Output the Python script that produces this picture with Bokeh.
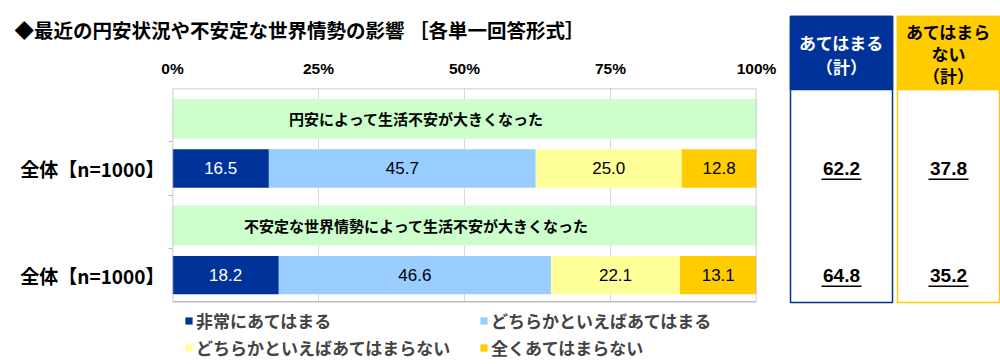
from bokeh.plotting import figure
from bokeh.models import Range1d, FixedTicker, Legend, LegendItem, ColumnDataSource
from bokeh.layouts import row
from bokeh.embed import file_html
from bokeh.resources import INLINE
from bokeh.core.properties import value

# ---------------- data ----------------
title_text = "◆最近の円安状況や不安定な世界情勢の影響 ［各単一回答形式］"
statements = ["円安によって生活不安が大きくなった",
              "不安定な世界情勢によって生活不安が大きくなった"]
group_labels = ["全体【n=1000】", "全体【n=1000】"]
series_names = ["非常にあてはまる", "どちらかといえばあてはまる",
                "どちらかといえばあてはまらない", "全くあてはまらない"]
very = [16.5, 18.2]
somewhat = [45.7, 46.6]
somewhat_not = [25.0, 22.1]
not_at_all = [12.8, 13.1]
agree_total = [62.2, 64.8]
disagree_total = [37.8, 35.2]
x_ticks = [0, 25, 50, 75, 100]
tick_labels = ["0%", "25%", "50%", "75%", "100%"]
agree_header = ["あてはまる", "（計）"]
disagree_header = ["あてはまら", "ない", "（計）"]

colors = ["#003399", "#99CCFF", "#FFFF99", "#FFCC00"]
label_colors = ["white", "black", "black", "black"]
BAND = "#CCFFCC"
GRID = "#D9D9D9"
FRAME = "#BBBBBB"
JP = "Noto Sans CJK JP"
NUM = "Liberation Sans"

# ---------------- layout constants (pixels) ----------------
W, H = 780, 364
FR_L, FR_R, FR_T = 172, 756, 87       # plot frame (bottom reaches the canvas edge)
BAR_B = 301                           # bottom of the bar area
PX_PER_ROW = (BAR_B - FR_T) / 4

p = figure(width=W, height=H, x_range=Range1d(0, 100),
           y_range=Range1d(-(H - BAR_B) / PX_PER_ROW, 4),
           output_backend="svg", toolbar_location=None, x_axis_location="above",
           min_border_left=FR_L, min_border_right=W - FR_R,
           min_border_top=FR_T, min_border_bottom=0)
p.frame_align = False
p.outline_line_color = None
p.background_fill_color = "white"

# title
p.title.text = title_text
p.title.align = "left"
p.title.offset = 14 - FR_L
p.title.standoff = 25
p.title.text_font = JP
p.title.text_font_style = "bold"
p.title.text_font_size = "19.5px"
p.title.text_color = "black"

# x axis above
p.xaxis.ticker = FixedTicker(ticks=x_ticks)
p.xaxis.major_label_overrides = {t: l for t, l in zip(x_ticks, tick_labels)}
p.xaxis.axis_line_color = None
p.xaxis.major_tick_out = 0
p.xaxis.major_tick_in = 0
p.xaxis.minor_tick_out = 0
p.xaxis.major_label_standoff = 12
p.xaxis.major_label_text_font = NUM
p.xaxis.major_label_text_font_style = "bold"
p.xaxis.major_label_text_font_size = "15.5px"
p.xaxis.major_label_text_color = "black"

n = len(statements)
bar_y = [4 - (2 * i + 1.5) for i in range(n)]
band_y = [4 - (2 * i + 0.5) - 0.07 for i in range(n)]

# y axis (left)
p.yaxis.ticker = FixedTicker(ticks=bar_y, minor_ticks=[1, 2, 3])
p.yaxis.major_label_overrides = {y: l for y, l in zip(bar_y, group_labels)}
p.yaxis.axis_line_color = None
p.yaxis.major_tick_out = 0
p.yaxis.major_tick_in = 0
p.yaxis.minor_tick_out = 4
p.yaxis.minor_tick_in = 0
p.yaxis.minor_tick_line_color = FRAME
p.yaxis.major_label_standoff = 4
p.yaxis.major_label_text_font = JP
p.yaxis.major_label_text_font_style = "bold"
p.yaxis.major_label_text_font_size = "19px"
p.yaxis.major_label_text_color = "black"

p.grid.visible = False

# grid lines of the bar area
grid_x = x_ticks[1:-1]
p.segment(x0=grid_x, x1=grid_x, y0=[0] * len(grid_x), y1=[4] * len(grid_x),
          line_color=GRID, line_width=1)

# statement bands
band_src = ColumnDataSource(dict(y=band_y, text=statements, x=[41.8] * n))
p.hbar(y="y", left=0, right=100, height=0.75, source=band_src,
       fill_color=BAND, line_color=None)
p.text(x="x", y="y", text="text", source=band_src, text_align="center",
       text_baseline="middle", text_font=value(JP), text_font_style="bold",
       text_font_size="15px", text_color="black")

# stacked bars
keys = ["very", "somewhat", "somewhat_not", "not_at_all"]
src = ColumnDataSource(dict(y=bar_y, very=very, somewhat=somewhat,
                            somewhat_not=somewhat_not, not_at_all=not_at_all))
rends = p.hbar_stack(keys, y="y", height=0.72, color=colors, source=src,
                     line_color=None)

series = [very, somewhat, somewhat_not, not_at_all]
for j, vals in enumerate(series):
    xs, ys, ts = [], [], []
    for i in range(n):
        left = sum(series[k][i] for k in range(j))
        xs.append(left + vals[i] / 2)
        ys.append(bar_y[i])
        ts.append(f"{vals[i]:.1f}")
    p.text(x=xs, y=ys, text=ts, text_align="center", text_baseline="middle",
           text_font=value(NUM), text_font_size="17px", text_color=label_colors[j])

# frame of the bar area
p.quad(left=[x_ticks[0]], right=[x_ticks[-1]], bottom=[0], top=[4], fill_color=None,
       line_color=FRAME, line_width=1.5)

# legend (inside the frame, below the bar area)
order = [0, 2, 1, 3]
legend = Legend(items=[LegendItem(label=series_names[k], renderers=[rends[k]]) for k in order],
                ncols=2, location=(12, 4), label_text_font=JP,
                label_text_font_style="bold", label_text_font_size="17px",
                glyph_width=9, glyph_height=9, label_standoff=3, spacing=2,
                label_width=281, label_height=20,
                border_line_color=None, background_fill_alpha=0, padding=0, margin=0)
p.add_layout(legend)

# ---------------- right summary boxes ----------------
q = figure(width=1000 - W, height=H, x_range=Range1d(W, 1000), y_range=Range1d(H, 0),
           output_backend="svg", toolbar_location=None, min_border=0,
           x_axis_type=None, y_axis_type=None)
q.frame_align = False
q.outline_line_color = None
q.grid.visible = False

box_l = [790, 897]
box_r = [892, 999]
box_c = [(a + b) / 2 for a, b in zip(box_l, box_r)]
edge = [colors[0], colors[3]]
q.quad(left=box_l, right=box_r, top=16, bottom=302, fill_color="white",
       line_color=edge, line_width=1.5)
q.quad(left=box_l, right=box_r, top=16, bottom=89, fill_color=edge, line_color=edge,
       line_width=1.5)
q.text(x=[box_c[0]] * 2, y=[42, 66], text=agree_header, text_align="center",
       text_baseline="middle", text_font=value(JP), text_font_style="bold",
       text_font_size="17px", text_color="white")
q.text(x=[box_c[1]] * 3, y=[31, 53, 75], text=disagree_header, text_align="center",
       text_baseline="middle", text_font=value(JP), text_font_style="bold",
       text_font_size="17px", text_color="black")

row_page_y = [BAR_B - y * PX_PER_ROW + 0.5 for y in bar_y]
for c, vals in zip(box_c, [agree_total, disagree_total]):
    q.text(x=[c] * n, y=row_page_y, text=[f"{v:.1f}" for v in vals], text_align="center",
           text_baseline="middle", text_font=value(NUM), text_font_style="bold",
           text_font_size="19px", text_color="black")
    q.segment(x0=[c - 20] * n, x1=[c + 20] * n, y0=[y + 11 for y in row_page_y],
              y1=[y + 11 for y in row_page_y], line_color="black", line_width=1.5)

layout = row(p, q, spacing=0)
open("out.html", "w").write(file_html(layout, INLINE))
